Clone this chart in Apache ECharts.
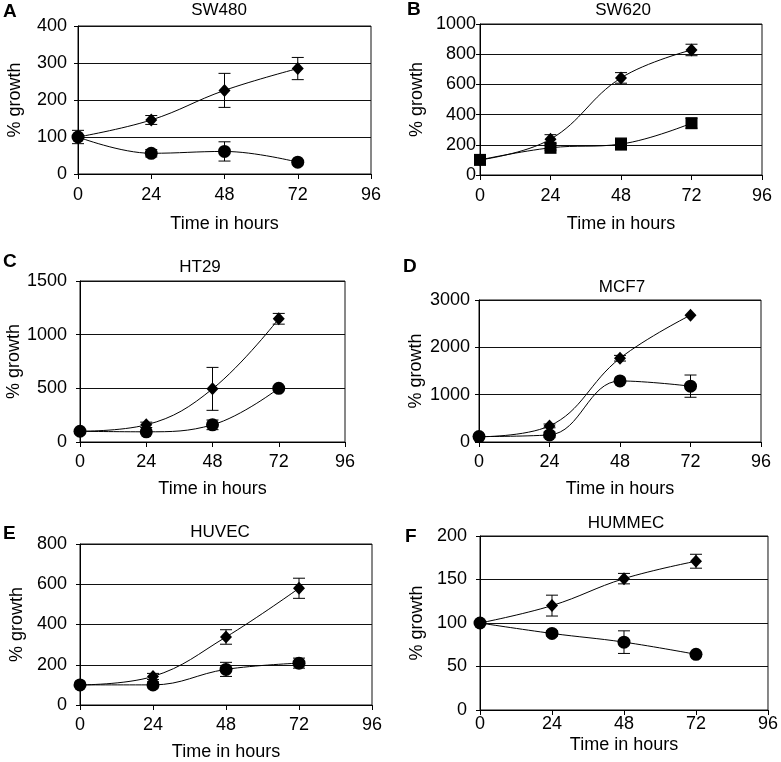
<!DOCTYPE html>
<html>
<head>
<meta charset="utf-8">
<script src="https://cdn.jsdelivr.net/npm/echarts@6/dist/echarts.min.js"></script>
<style>
    html, body { margin: 0; padding: 0; background: #fff; }
    #chart { width: 781px; height: 762px; }
</style>
</head>
<body>
<div id="chart"></div>
<script>
    // sampling times (hours)
    var hours = [0, 24, 48, 72];

    // A - SW480
    var sw480Diamond = [100, 146, 226, 285];
    var sw480DiamondErr = [0, 12, 46, 30];
    var sw480Circle = [100, 56, 61, 32];
    var sw480CircleErr = [18, 10, 26, 0];

    // B - SW620 (second series drawn with squares)
    var sw620Diamond = [100, 237, 643, 828];
    var sw620DiamondErr = [0, 30, 35, 38];
    var sw620Square = [100, 180, 205, 343];
    var sw620SquareErr = [0, 15, 40, 33];

    // C - HT29
    var ht29Diamond = [100, 160, 495, 1148];
    var ht29DiamondErr = [0, 25, 200, 50];
    var ht29Circle = [100, 95, 160, 500];
    var ht29CircleErr = [0, 0, 45, 0];

    // D - MCF7
    var mcf7Diamond = [110, 340, 1770, 2680];
    var mcf7DiamondErr = [0, 40, 60, 0];
    var mcf7Circle = [115, 150, 1290, 1180];
    var mcf7CircleErr = [0, 60, 0, 235];

    // E - HUVEC
    var huvecDiamond = [100, 142, 338, 580];
    var huvecDiamondErr = [0, 15, 36, 50];
    var huvecCircle = [100, 100, 177, 208];
    var huvecCircleErr = [0, 15, 35, 25];

    // F - HUMMEC
    var hummecDiamond = [100, 120, 151, 171];
    var hummecDiamondErr = [0, 12, 6, 8];
    var hummecCircle = [100, 88, 78, 64];
    var hummecCircleErr = [0, 3, 13, 0];

    var font = 'Liberation Sans, Arial, sans-serif';

    var panels = [
        {letter: 'A', title: 'SW480', grid: {left: 78, top: 26, width: 293, height: 148},
            yMax: 400, yStep: 100, letterPos: [3, 2], titlePos: [219, 2], xMargin: 12, yMargin: 11, xNameGap: 41,
            s1: sw480Diamond, e1: sw480DiamondErr, s2: sw480Circle, e2: sw480CircleErr, sym2: 'circle'},
        {letter: 'B', title: 'SW620', grid: {left: 480, top: 24, width: 282, height: 151},
            yMax: 1000, yStep: 200, letterPos: [407, 0], titlePos: [623, 2], xMargin: 12, yMargin: 4, xNameGap: 40,
            s1: sw620Diamond, e1: sw620DiamondErr, s2: sw620Square, e2: sw620SquareErr, sym2: 'rect'},
        {letter: 'C', title: 'HT29', grid: {left: 80, top: 281, width: 265, height: 161},
            yMax: 1500, yStep: 500, letterPos: [3, 252], titlePos: [200, 259], xMargin: 11, yMargin: 13, xNameGap: 38,
            s1: ht29Diamond, e1: ht29DiamondErr, s2: ht29Circle, e2: ht29CircleErr, sym2: 'circle'},
        {letter: 'D', title: 'MCF7', grid: {left: 479, top: 300, width: 282, height: 142},
            yMax: 3000, yStep: 1000, letterPos: [403, 257], titlePos: [622, 279], xMargin: 11, yMargin: 9, xNameGap: 38,
            s1: mcf7Diamond, e1: mcf7DiamondErr, s2: mcf7Circle, e2: mcf7CircleErr, sym2: 'circle'},
        {letter: 'E', title: 'HUVEC', grid: {left: 80, top: 544, width: 292, height: 165},
            yMax: 800, yStep: 200, letterPos: [3, 524], titlePos: [220, 524], xMargin: 11, yMargin: 13, xNameGap: 38,
            s1: huvecDiamond, e1: huvecDiamondErr, s2: huvecCircle, e2: huvecCircleErr, sym2: 'circle'},
        {letter: 'F', title: 'HUMMEC', grid: {left: 480, top: 536, width: 291, height: 174},
            yMax: 200, yStep: 50, letterPos: [405, 527], titlePos: [626, 515], xMargin: 5, yMargin: 13, xNameGap: 26,
            s1: hummecDiamond, e1: hummecDiamondErr, s2: hummecCircle, e2: hummecCircleErr, sym2: 'circle'}
    ];

    // vertical error bar with caps
    function renderErr(params, api) {
        var x = api.value(0), y = api.value(1), e = api.value(2);
        var top = api.coord([x, y + e]);
        var bot = api.coord([x, y - e]);
        var hw = 6;
        var st = {stroke: '#000', lineWidth: 1};
        return {
            type: 'group',
            children: [
                {type: 'line', shape: {x1: top[0], y1: top[1], x2: bot[0], y2: bot[1]}, style: st},
                {type: 'line', shape: {x1: top[0] - hw, y1: top[1], x2: top[0] + hw, y2: top[1]}, style: st},
                {type: 'line', shape: {x1: bot[0] - hw, y1: bot[1], x2: bot[0] + hw, y2: bot[1]}, style: st}
            ]
        };
    }

    function errData(vals, errs) {
        var out = [];
        hours.forEach(function (h, i) {
            if (errs[i] > 0) out.push([h, vals[i], errs[i]]);
        });
        return out;
    }

    function pairs(vals) {
        return hours.map(function (h, i) { return [h, vals[i]]; });
    }

    var grids = [], xAxes = [], yAxes = [], series = [], titles = [];

    panels.forEach(function (p, i) {
        grids.push(Object.assign({show: true, borderColor: '#111', borderWidth: 1, containLabel: false}, p.grid));
        xAxes.push({
            type: 'value', gridIndex: i, min: 0, max: 96, interval: 24,
            name: 'Time in hours', nameLocation: 'middle', nameGap: p.xNameGap,
            nameTextStyle: {color: '#000', fontSize: 18, fontFamily: font},
            axisLine: {show: true, lineStyle: {color: '#000', width: 1}},
            axisTick: {show: true, length: 5, lineStyle: {color: '#000'}},
            axisLabel: {color: '#000', fontSize: 18, fontFamily: font, margin: p.xMargin},
            splitLine: {show: false}
        });
        yAxes.push({
            type: 'value', gridIndex: i, min: 0, max: p.yMax, interval: p.yStep,
            name: '% growth', nameLocation: 'middle', nameGap: 54,
            nameTextStyle: {color: '#000', fontSize: 18, fontFamily: font},
            axisLine: {show: true, lineStyle: {color: '#000', width: 1}},
            axisTick: {show: true, length: 4, lineStyle: {color: '#000'}},
            axisLabel: {color: '#000', fontSize: 18, fontFamily: font, margin: p.yMargin,
                formatter: function (v) { return String(v); }},
            splitLine: {show: true, lineStyle: {color: '#111', width: 1}}
        });
        titles.push({
            text: p.title, left: p.titlePos[0], top: p.titlePos[1], textAlign: 'center', padding: 0,
            textStyle: {color: '#000', fontSize: 17, fontWeight: 'normal', fontFamily: font}
        });
        titles.push({
            text: p.letter, left: p.letterPos[0], top: p.letterPos[1], padding: 0,
            textStyle: {color: '#000', fontSize: 19, fontWeight: 'bold', fontFamily: font}
        });

        [[p.s1, p.e1, 'diamond'], [p.s2, p.e2, p.sym2]].forEach(function (s) {
            series.push({
                type: 'custom', xAxisIndex: i, yAxisIndex: i, z: 1,
                renderItem: renderErr, data: errData(s[0], s[1]), silent: true
            });
            series.push({
                type: 'line', xAxisIndex: i, yAxisIndex: i, z: 2,
                data: pairs(s[0]), smooth: 0.4,
                symbol: s[2], symbolSize: s[2] === 'diamond' ? [12, 13] : (s[2] === 'rect' ? 12 : 13),
                lineStyle: {color: '#000', width: 1},
                itemStyle: {color: '#000'}
            });
        });
    });

    var chart = echarts.init(document.getElementById('chart'));
    chart.setOption({
        backgroundColor: '#fff',
        animation: false,
        title: titles,
        grid: grids,
        xAxis: xAxes,
        yAxis: yAxes,
        series: series
    });
</script>
</body>
</html>
